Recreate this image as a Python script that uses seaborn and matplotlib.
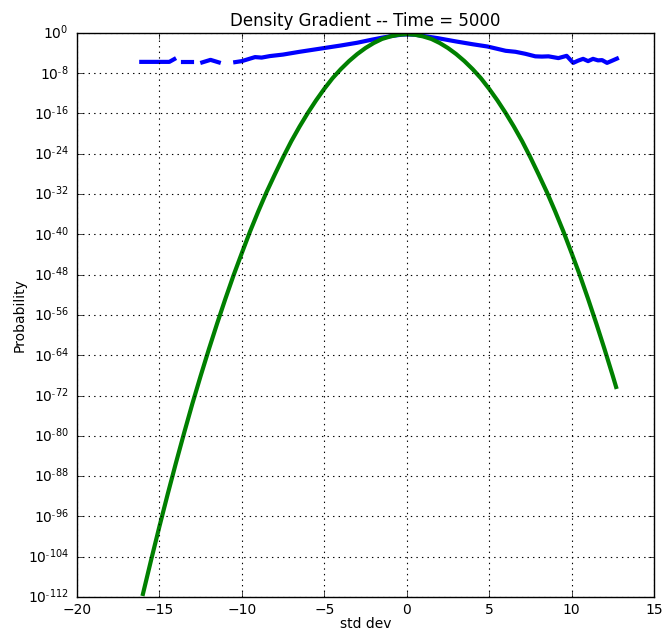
import numpy as np
import pandas as pd
import matplotlib
matplotlib.use("Agg")
import matplotlib.pyplot as plt
import seaborn as sns
from matplotlib.ticker import FuncFormatter, NullLocator

# Gaussian reference curve: x (std dev) and log10 of probability
gauss_x = [-16, -15.5, -15, -14.5, -14, -13.5, -13, -12.5, -12, -11.5, -11, -10.5,
           -10, -9.5, -9, -8.5, -8, -7.5, -7, -6.5, -6, -5.5, -5, -4.5, -4, -3.5,
           -3, -2.5, -2, -1.5, -1, -0.5, 0, 0.5, 1, 1.5, 2, 2.5, 3, 3.5, 4, 4.5,
           5, 5.5, 6, 6.5, 7, 7.5, 8, 8.5, 9, 9.5, 10, 10.5, 11, 11.5, 12, 12.5, 12.7]
gauss_log10 = [-111.4, -104.6, -98.0, -91.6, -85.4, -79.4, -73.6, -68.1, -62.8, -57.7,
               -52.8, -48.1, -43.7, -39.4, -35.4, -31.6, -28.1, -24.7, -21.5, -18.6,
               -15.9, -13.4, -11.1, -9.0, -7.2, -5.6, -4.2, -3.0, -2.0, -1.2, -0.7,
               -0.36, -0.25, -0.36, -0.7, -1.2, -2.0, -3.0, -4.2, -5.6, -7.2, -9.0,
               -11.1, -13.4, -15.9, -18.6, -21.5, -24.7, -28.1, -31.6, -35.4, -39.4,
               -43.7, -48.1, -52.8, -57.7, -62.8, -68.1, -70.3]

# Measured density gradient, split into the pieces where the probability is nonzero
meas_segment = [0, 0, 0,
                1, 1,
                2, 2, 2,
                3, 3, 3, 3, 3, 3, 3, 3, 3, 3, 3, 3, 3, 3, 3, 3, 3, 3, 3, 3, 3, 3,
                3, 3, 3, 3, 3, 3, 3, 3, 3, 3, 3, 3, 3, 3, 3, 3, 3, 3]
meas_x = [-16.1, -14.4, -14.1,
          -13.6, -13.05,
          -12.4, -11.9, -11.4,
          -10.4, -10.0, -9.6, -9.2, -8.8, -8.3, -7.5, -6.5, -5.1, -4.0, -3.0, -2.2,
          -1.5, -0.8, -0.3, 0.0, 0.5, 1.0, 1.9, 3.0, 4.0, 4.9, 6.0, 6.6, 7.2, 7.8,
          8.2, 8.6, 9.2, 9.7, 10.1, 10.4, 10.7, 11.0, 11.3, 11.6, 11.85, 12.15, 12.4, 12.75]
meas_log10 = [-5.75, -5.75, -5.2,
              -5.8, -5.8,
              -5.85, -5.35, -5.85,
              -5.8, -5.6, -5.2, -4.8, -4.9, -4.6, -4.3, -3.75, -3.05, -2.5, -1.95, -1.4,
              -0.95, -0.55, -0.35, -0.3, -0.35, -0.6, -1.05, -1.7, -2.25, -2.7, -3.55,
              -3.75, -4.15, -4.65, -4.7, -4.65, -5.0, -4.55, -5.95, -5.5, -5.15, -5.6,
              -5.15, -5.45, -5.4, -5.95, -5.6, -5.1]

x_ticks = [-20, -15, -10, -5, 0, 5, 10, 15]
y_tick_exponents = [0, -8, -16, -24, -32, -40, -48, -56, -64, -72, -80, -88, -96, -104, -112]

plt.style.use("classic")
plt.rcParams.update({
    "figure.facecolor": "white",
    "savefig.facecolor": "white",
    "font.family": ["DejaVu Sans"],
    "font.size": 10,
})

measured = pd.DataFrame({
    "x": meas_x,
    "p": np.power(10.0, meas_log10),
    "segment": meas_segment,
})
gauss = pd.DataFrame({"x": gauss_x, "p": np.power(10.0, gauss_log10)})

fig = plt.figure(figsize=(6.66, 6.33), dpi=100)
ax = fig.add_axes([0.1156, 0.0569, 0.8664, 0.8911])

sns.lineplot(data=measured, x="x", y="p", units="segment", estimator=None,
             color="#0000ff", linewidth=3, sort=False, ax=ax, legend=False)
sns.lineplot(data=gauss, x="x", y="p", color="#008000", linewidth=3,
             sort=False, ax=ax, legend=False)


def power_label(value, pos):
    exp = int(round(np.log10(value)))
    if exp < 0:
        return r"$\mathdefault{10^{\text{-}%d}}$" % (-exp)
    return r"$\mathdefault{10^{%d}}$" % exp


ax.set_yscale("log")
ax.set_xlim(-20, 15)
ax.set_ylim(1e-112, 1e0)
ax.set_xticks(x_ticks)
ax.set_yticks([10.0 ** e for e in y_tick_exponents])
ax.yaxis.set_major_formatter(FuncFormatter(power_label))
ax.yaxis.set_minor_locator(NullLocator())
ax.xaxis.set_minor_locator(NullLocator())
ax.tick_params(labelsize=10)
ax.tick_params(axis="y", pad=6)
ax.grid(True, color="black", linestyle=":", linewidth=0.8)

ax.set_title("Density Gradient -- Time = 5000", fontsize=12)
ax.set_xlabel("std dev", fontsize=10, labelpad=0)
ax.set_ylabel("Probability", fontsize=10, labelpad=1)

fig.savefig("out.png", dpi=100)
